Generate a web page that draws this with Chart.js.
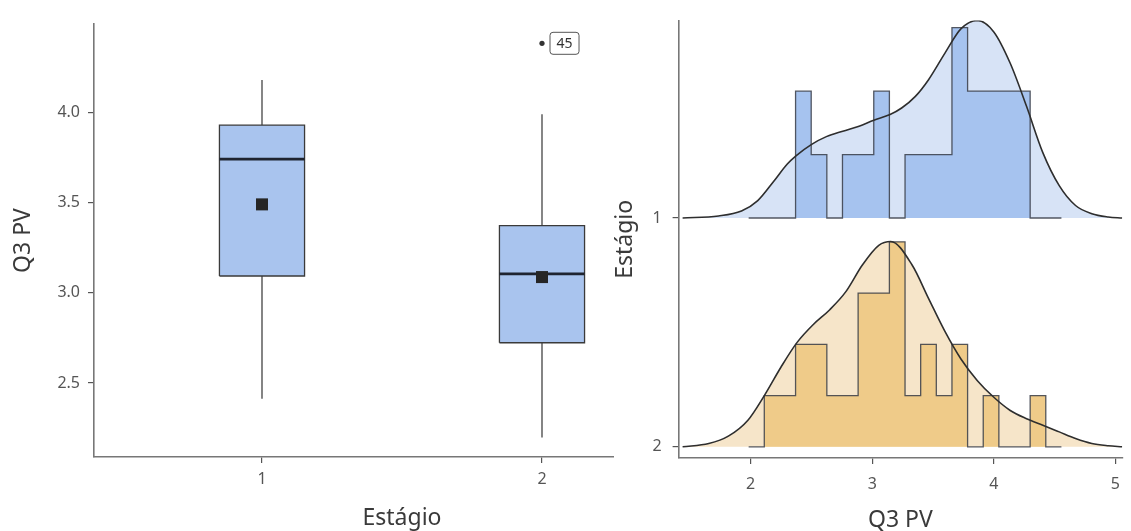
<!DOCTYPE html>
<html>
<head>
<meta charset="utf-8">
<script src="https://cdn.jsdelivr.net/npm/chart.js@4.4.1/dist/chart.umd.min.js"></script>
<style>
  html, body { margin: 0; padding: 0; background: #fff; overflow: hidden; }
  #wrap { position: relative; width: 1131px; height: 531px; overflow: hidden; }
  #boxCanvas { position: absolute; left: 0; top: 0; }
  #ridgeCanvas { position: absolute; left: 614px; top: 0; background: #fff; }
</style>
</head>
<body>
<div id="wrap">
  <canvas id="boxCanvas" width="720" height="534"></canvas>
  <canvas id="ridgeCanvas" width="517" height="534"></canvas>
</div>
<script>
// Boxplot summary of Q3 PV per stage
const stages = [1, 2];
const whiskerLow = [2.413, 2.197];
const quartile1 = [3.093, 2.723];
const medians = [3.741, 3.105];
const quartile3 = [3.929, 3.372];
const whiskerHigh = [4.179, 3.989];
const means = [3.490, 3.087];
const outlierStage = [2];
const outlierValue = [4.383];
const outlierId = ['45'];
const q3Ticks = [2.5, 3.0, 3.5, 4.0];

// Ridge panel: shared histogram bins and density curves per stage
const binStart = 1.984;
const binWidth = 0.1286;
const countsStage1 = [0, 0, 0, 2, 1, 0, 1, 1, 2, 0, 1, 1, 1, 3, 2, 2, 2, 2, 0, 0];
const countsStage2 = [0, 1, 1, 2, 2, 1, 1, 3, 3, 4, 1, 2, 1, 2, 0, 1, 0, 0, 1, 0];
const densX1 = [1.441, 1.736, 1.925, 2.059, 2.194, 2.300, 2.373, 2.502, 2.623, 2.758, 2.892, 3.013, 3.147, 3.242,
  3.355, 3.462, 3.597, 3.731, 3.865, 4.000, 4.135, 4.269, 4.403, 4.538, 4.672, 4.806, 4.941, 5.056];
const densY1 = [0, 0.012, 0.041, 0.102, 0.218, 0.314, 0.363, 0.430, 0.475, 0.507, 0.536, 0.571, 0.604, 0.642,
  0.710, 0.806, 0.961, 1.105, 1.153, 1.086, 0.903, 0.652, 0.382, 0.189, 0.073, 0.025, 0.006, 0];
const densX2 = [1.441, 1.656, 1.817, 1.978, 2.113, 2.248, 2.381, 2.516, 2.651, 2.785, 2.919, 3.054, 3.153, 3.328,
  3.462, 3.597, 3.731, 3.865, 4.000, 4.135, 4.269, 4.403, 4.538, 4.672, 4.806, 4.941, 5.056];
const densY2 = [0, 0.019, 0.062, 0.155, 0.299, 0.463, 0.608, 0.714, 0.800, 0.907, 1.061, 1.176, 1.198, 1.061,
  0.868, 0.675, 0.511, 0.386, 0.289, 0.212, 0.164, 0.126, 0.087, 0.048, 0.019, 0.006, 0];
const pvTicks = [2, 3, 4, 5];

const FONT = '"Noto Sans", "Open Sans", sans-serif';
const tickFont = { family: FONT, size: 16 };
const titleFont = { family: FONT, size: 23 };
const axisLine = { display: true, color: '#777', width: 1.6 };
const tickMarks = { drawOnChartArea: false, color: '#555', lineWidth: 1.2, tickLength: 6 };

Chart.defaults.animation = false;
Chart.defaults.elements.point.radius = 0;
Chart.defaults.plugins.legend.display = false;
Chart.defaults.plugins.tooltip.enabled = false;

// ---------- boxplot ----------
const boxHalf = 0.152;
const boxSets = [];
stages.forEach((s, i) => {
  boxSets.push({
    data: [
      { x: s - boxHalf, y: quartile1[i] }, { x: s - boxHalf, y: quartile3[i] },
      { x: s + boxHalf, y: quartile3[i] }, { x: s + boxHalf, y: quartile1[i] },
      { x: s - boxHalf, y: quartile1[i] }
    ],
    backgroundColor: '#a9c4ee', borderColor: '#3a3a3a', borderWidth: 1.3,
    borderJoinStyle: 'miter', fill: 'shape', order: 5
  });
  boxSets.push({
    data: [{ x: s, y: quartile3[i] }, { x: s, y: whiskerHigh[i] }],
    borderColor: '#444', borderWidth: 1.3, order: 6
  });
  boxSets.push({
    data: [{ x: s, y: quartile1[i] }, { x: s, y: whiskerLow[i] }],
    borderColor: '#444', borderWidth: 1.3, order: 6
  });
  boxSets.push({
    data: [{ x: s - boxHalf, y: medians[i] }, { x: s + boxHalf, y: medians[i] }],
    borderColor: '#1f2430', borderWidth: 2.6, order: 3
  });
  boxSets.push({
    data: [{ x: s, y: means[i] }],
    showLine: false, pointStyle: 'rect', pointRadius: 8.5,
    pointBackgroundColor: '#262626', pointBorderWidth: 0, order: 2
  });
});
boxSets.push({
  data: outlierStage.map((s, i) => ({ x: s, y: outlierValue[i] })),
  showLine: false, pointStyle: 'circle', pointRadius: 2.6,
  pointBackgroundColor: '#333', pointBorderWidth: 0, order: 1
});

const outlierTag = {
  id: 'outlierTag',
  afterDatasetsDraw(chart) {
    const { ctx, scales: { x, y } } = chart;
    ctx.save();
    ctx.font = '14px ' + FONT;
    outlierValue.forEach((v, i) => {
      const px = x.getPixelForValue(outlierStage[i]);
      const py = y.getPixelForValue(v);
      const w = ctx.measureText(outlierId[i]).width + 13;
      const h = 22;
      const left = px + 8;
      ctx.beginPath();
      ctx.roundRect(left, py - h / 2, w, h, 3);
      ctx.fillStyle = '#fff';
      ctx.fill();
      ctx.strokeStyle = '#555';
      ctx.lineWidth = 1;
      ctx.stroke();
      ctx.fillStyle = '#333';
      ctx.textBaseline = 'middle';
      ctx.textAlign = 'center';
      ctx.fillText(outlierId[i], left + w / 2, py + 1);
    });
    ctx.restore();
  }
};

new Chart(document.getElementById('boxCanvas'), {
  type: 'line',
  data: { datasets: boxSets },
  plugins: [outlierTag],
  options: {
    responsive: false,
    devicePixelRatio: 1,
    layout: { padding: { top: 24, right: 10, left: 0, bottom: 0 } },
    scales: {
      x: {
        type: 'linear', min: 0.4, max: 2.6,
        afterBuildTicks: s => { s.ticks = stages.map(v => ({ value: v })); },
        afterFit: s => { s.height = 77; },
        ticks: { font: tickFont, color: '#555', padding: 7, callback: v => String(v) },
        grid: tickMarks, border: axisLine,
        title: { display: true, text: 'Estágio', font: titleFont, color: '#3a3a3a', padding: { top: 0, bottom: 2 } }
      },
      y: {
        type: 'linear', min: 2.0895, max: 4.49,
        afterBuildTicks: s => { s.ticks = q3Ticks.map(v => ({ value: v })); },
        afterFit: s => { s.width = 94; },
        ticks: { font: tickFont, color: '#555', padding: 8, callback: v => v.toFixed(1) },
        grid: tickMarks, border: axisLine,
        title: { display: true, text: 'Q3 PV', font: titleFont, color: '#3a3a3a', padding: { top: 10, bottom: 0 } }
      }
    }
  }
});

// ---------- ridgeline histograms + densities ----------
const ridgeScale = 0.749;
function histPoints(counts, base) {
  const n = counts.reduce((a, b) => a + b, 0);
  const pts = counts.map((c, i) => ({
    x: binStart + i * binWidth,
    y: base + ridgeScale * c / (n * binWidth)
  }));
  pts.push({ x: binStart + counts.length * binWidth, y: base });
  return pts;
}
function densPoints(xs, ys, base) {
  return xs.map((x, i) => ({ x: x, y: base + ridgeScale * ys[i] }));
}

const ridges = [
  { base: 1, counts: countsStage1, dx: densX1, dy: densY1, light: '#d7e3f6', mid: '#a6c3ef' },
  { base: 0, counts: countsStage2, dx: densX2, dy: densY2, light: '#f6e5c9', mid: '#efcb89' }
];
const ridgeSets = [];
ridges.forEach(r => {
  const dens = densPoints(r.dx, r.dy, r.base);
  ridgeSets.push({
    data: dens, fill: { value: r.base }, backgroundColor: r.light,
    borderWidth: 0, cubicInterpolationMode: 'monotone', order: 3
  });
  ridgeSets.push({
    data: histPoints(r.counts, r.base), stepped: 'before', fill: { value: r.base },
    backgroundColor: r.mid, borderColor: 'rgba(55,60,70,0.85)', borderWidth: 1.3, order: 2
  });
  ridgeSets.push({
    data: dens, fill: false, borderColor: '#2e2e2e', borderWidth: 1.6,
    cubicInterpolationMode: 'monotone', order: 1
  });
});

new Chart(document.getElementById('ridgeCanvas'), {
  type: 'line',
  data: { datasets: ridgeSets },
  options: {
    responsive: false,
    devicePixelRatio: 1,
    layout: { padding: { top: 17, right: 0, left: 0, bottom: 0 } },
    scales: {
      x: {
        type: 'linear', min: 1.408, max: 5.056,
        afterBuildTicks: s => { s.ticks = pvTicks.map(v => ({ value: v })); },
        afterFit: s => { s.height = 76; },
        ticks: { font: tickFont, color: '#555', padding: 11, callback: v => String(v) },
        grid: tickMarks, border: axisLine,
        title: { display: true, text: 'Q3 PV', font: titleFont, color: '#3a3a3a', padding: { top: 0, bottom: 0 } }
      },
      y: {
        type: 'linear', min: -0.049, max: 1.863,
        afterBuildTicks: s => { s.ticks = ridges.map(r => ({ value: r.base })); },
        afterFit: s => { s.width = 64.6; },
        ticks: { font: tickFont, color: '#555', padding: 11, callback: v => (v === 1 ? '1' : '2') },
        grid: tickMarks, border: axisLine,
        title: {
          display: true, text: 'Estágio', color: '#3a3a3a',
          font: { family: FONT, size: 23, lineHeight: 1 }, padding: { top: 0, bottom: 0 }
        }
      }
    }
  }
});
</script>
</body>
</html>
